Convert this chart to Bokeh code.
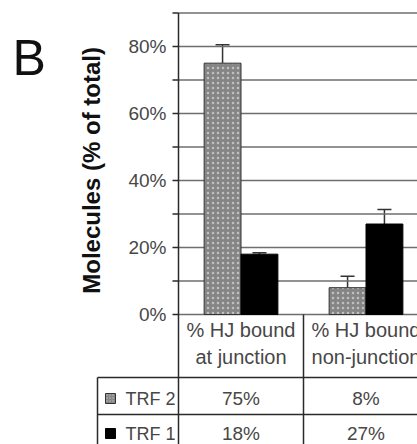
import math
from bokeh.plotting import figure
from bokeh.models import Range1d, Whisker, TeeHead, ColumnDataSource
from bokeh.core.properties import value
from bokeh.embed import file_html
from bokeh.resources import INLINE

# ---- data ----
categories = ["% HJ bound\nat junction", "% HJ bound\nnon-junction"]
series = ["TRF 2", "TRF 1"]
trf2 = [75, 8]
trf2_err = [5.5, 3.4]
trf1 = [18, 27]
trf1_err = [0.4, 4.3]
y_ticks = [0, 10, 20, 30, 40, 50, 60, 70, 80, 90]
y_tick_labels = {0: "0%", 20: "20%", 40: "40%", 60: "60%", 80: "80%"}
y_title = "Molecules (% of total)"
panel_letter = "B"

# ---- layout constants (pixels) ----
FONT = "Liberation Sans"
W, H = 417, 444
AXIS_X = 178            # canvas px of the y axis
ZERO_Y = 314            # canvas px (from top) of 0%
TOP_Y = 12.4            # canvas px (from top) of 90%
PX_PER_CAT = 125.0
PX_PER_PCT = (ZERO_Y - TOP_Y) / 90.0

def dx(px):  # horizontal pixel offset -> data
    return px / PX_PER_CAT

def dy(px):  # vertical pixel offset (downwards from 0%) -> data
    return -px / PX_PER_PCT

x_start = -AXIS_X / PX_PER_CAT
x_end = (W - AXIS_X) / PX_PER_CAT
y_end = ZERO_Y / PX_PER_PCT
y_start = -(H - ZERO_Y) / PX_PER_PCT

p = figure(width=W, height=H, x_range=Range1d(x_start, x_end), y_range=Range1d(y_start, y_end),
           output_backend="svg", toolbar_location=None,
           x_axis_location=None, y_axis_location=None,
           min_border_left=0, min_border_right=0, min_border_top=0, min_border_bottom=0)
p.outline_line_color = None
p.xgrid.visible = False
p.ygrid.visible = False

idx = list(range(len(categories)))
bw = 0.295
x2 = [i + 0.5 - bw / 2 for i in idx]
x1 = [i + 0.5 + bw / 2 for i in idx]

LC = "#2a2a2a"
TC = "#474747"

# gridlines
p.segment(x0=[0] * len(y_ticks), y0=y_ticks, x1=[x_end] * len(y_ticks), y1=y_ticks,
          line_color="#6e6e6e", line_width=1.5)

# bars
src2 = ColumnDataSource(dict(x=x2, top=trf2, up=[v + e for v, e in zip(trf2, trf2_err)],
                             lo=[v - e for v, e in zip(trf2, trf2_err)]))
src1 = ColumnDataSource(dict(x=x1, top=trf1, up=[v + e for v, e in zip(trf1, trf1_err)],
                             lo=[v - e for v, e in zip(trf1, trf1_err)]))
p.vbar(x="x", top="top", width=bw, source=src2, fill_color="#858585",
       hatch_pattern="dot", hatch_color="#c0c0c0", hatch_scale=5, hatch_weight=1.2,
       line_color="#333333", line_width=1)
p.vbar(x="x", top="top", width=bw, source=src1, fill_color="#000000",
       line_color="#000000", line_width=1)
for s in (src2, src1):
    p.add_layout(Whisker(source=s, base="x", upper="up", lower="lo",
                         line_color="#333333", line_width=1.5,
                         upper_head=TeeHead(size=14, line_color="#333333", line_width=1.5),
                         lower_head=TeeHead(size=14, line_color="#333333", line_width=1.5)))

# y axis (drawn through the plot scales)
p.segment(x0=[dx(-6)] * len(y_ticks), y0=y_ticks, x1=[0] * len(y_ticks), y1=y_ticks,
          line_color=LC, line_width=1.5)
lab_t = [t for t in y_ticks if t in y_tick_labels]
p.text(x=[dx(-12)] * len(lab_t), y=lab_t, text=[y_tick_labels[t] for t in lab_t],
       text_align="right", text_baseline="middle", text_font=value(FONT),
       text_font_size="19px", text_color=TC)
p.text(x=[dx(91 - AXIS_X)], y=[43], text=[y_title], angle=math.pi / 2,
       text_align="center", text_baseline="middle", text_font=value(FONT),
       text_font_style=value("bold"), text_font_size="24px", text_color="#111111")
p.text(x=[dx(12 - AXIS_X)], y=[dy(57 - ZERO_Y)], text=[panel_letter],
       text_align="left", text_baseline="alphabetic", text_font=value(FONT),
       text_font_size="50px", text_color="#111111")

# ---- table ----
tbl_left = dx(97 - AXIS_X)
header_y = [dy(15), dy(42)]
row_lines = [dy(63), dy(100)]
row_y = [dy(84), dy(119)]

vx = [0] + [i + 1 for i in idx[:-1]] + [tbl_left]
vy0 = [y_ticks[-1]] + [0] * (len(idx) - 1) + [row_lines[0]]
p.segment(x0=vx, y0=vy0, x1=vx, y1=[y_start] * len(vx), line_color=LC, line_width=1.5)
p.segment(x0=[tbl_left] * len(row_lines), y0=row_lines, x1=[x_end] * len(row_lines),
          y1=row_lines, line_color=LC, line_width=1.5)

hx, hy, ht = [], [], []
for i, c in enumerate(categories):
    for j, line in enumerate(c.split("\n")):
        hx.append(i + 0.5)
        hy.append(header_y[j])
        ht.append(line)
p.text(x=hx, y=hy, text=ht, text_align="center", text_baseline="middle",
       text_font=value(FONT), text_font_size="20px", text_color=TC)

vals = [trf2, trf1]
tx, ty, tt = [], [], []
for r, row in enumerate(vals):
    for i, v in enumerate(row):
        tx.append(i + 0.5)
        ty.append(row_y[r])
        tt.append(f"{v}%")
p.text(x=tx, y=ty, text=tt, text_align="center", text_baseline="middle",
       text_font=value(FONT), text_font_size="19px", text_color=TC)

sw_x = tbl_left + dx(13)
p.scatter(x=[sw_x], y=[row_y[0]], marker="square", size=10, fill_color="#858585",
          hatch_pattern="dot", hatch_color="#c0c0c0", hatch_scale=3, line_color="#333333")
p.scatter(x=[sw_x], y=[row_y[1]], marker="square", size=10, fill_color="#000000",
          line_color="#000000")
p.text(x=[sw_x + dx(15)] * 2, y=row_y, text=series, text_align="left", text_baseline="middle",
       text_font=value(FONT), text_font_size="18px", text_color=TC)

open("out.html", "w").write(file_html(p, INLINE))
